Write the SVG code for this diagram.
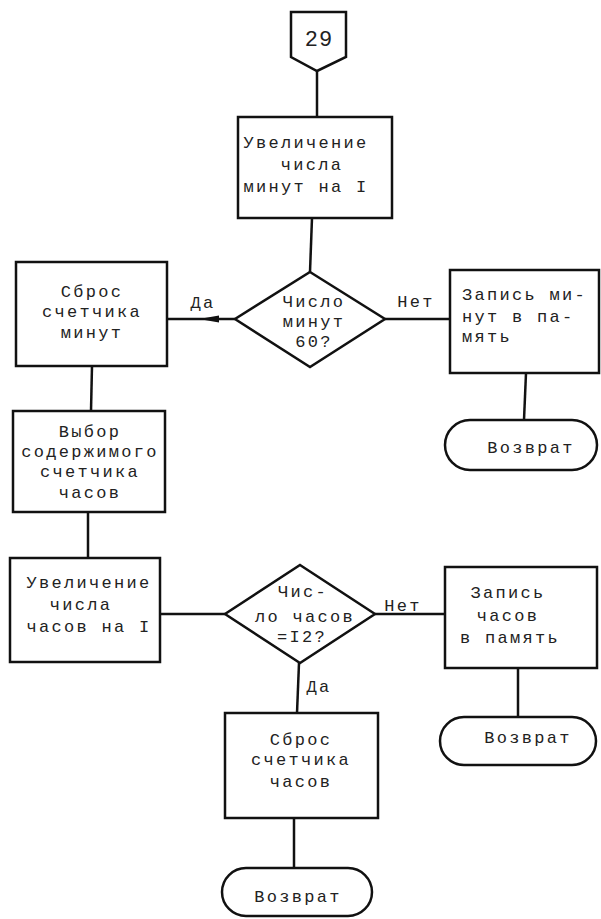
<svg xmlns="http://www.w3.org/2000/svg" width="601" height="919" viewBox="0 0 601 919">
<style>
.s{fill:#fff;stroke:#111;stroke-width:2.5}
.c{fill:none;stroke:#111;stroke-width:2.5}
text{font-family:"Liberation Mono","Courier New",monospace;font-size:17px;letter-spacing:2.3px;fill:#222}
.m{text-anchor:middle}
</style>
<rect width="601" height="919" fill="#fff"/>
<g id="connectors">
<line class="c" x1="317" y1="71" x2="317" y2="117"/>
<line class="c" x1="312" y1="218" x2="310" y2="272"/>
<line class="c" x1="235" y1="319" x2="167" y2="319"/>
<polygon points="199,319 219,315.5 219,322.5" fill="#111"/>
<line class="c" x1="385" y1="319" x2="450" y2="319"/>
<line class="c" x1="526" y1="373" x2="524" y2="420"/>
<line class="c" x1="92" y1="366" x2="91" y2="411"/>
<line class="c" x1="88" y1="512" x2="88" y2="558"/>
<line class="c" x1="160" y1="614" x2="225" y2="614"/>
<line class="c" x1="375" y1="614" x2="445" y2="614"/>
<line class="c" x1="518" y1="668" x2="518" y2="717"/>
<line class="c" x1="299" y1="663" x2="297" y2="713"/>
<line class="c" x1="294" y1="818" x2="294" y2="868"/>
<text x="203" y="308" class="m">Да</text>
<text x="416" y="307" class="m">Нет</text>
<text x="403" y="611" class="m">Нет</text>
<text x="319" y="692" class="m">Да</text>
</g>
<g id="n29">
<polygon class="s" points="291,12 346,12 346,57 317,71 291,57"/>
<text x="319" y="46" class="m" style="font-size:22px;letter-spacing:1px">29</text>
</g>
<g id="incMin">
<rect class="s" x="238" y="117" width="154" height="101"/>
<text x="306" y="148" class="m">Увеличение</text>
<text x="312" y="170" class="m">числа</text>
<text x="306" y="192" class="m">минут на I</text>
</g>
<g id="decMin">
<polygon class="s" points="310,272 385,319 310,367 235,319"/>
<text x="314" y="307" class="m">Число</text>
<text x="314" y="327" class="m">минут</text>
<text x="314" y="347" class="m">60?</text>
</g>
<g id="resetMin">
<rect class="s" x="16" y="262" width="151" height="104"/>
<text x="92" y="297" class="m">Сброс</text>
<text x="92" y="317" class="m">счетчика</text>
<text x="92" y="338" class="m">минут</text>
</g>
<g id="storeMin">
<rect class="s" x="450" y="270" width="149" height="103"/>
<text x="462" y="300">Запись ми-</text>
<text x="462" y="322">нут в па-</text>
<text x="462" y="342">мять</text>
</g>
<g id="ret1">
<rect class="s" x="445" y="420" width="152" height="50" rx="25"/>
<text x="531" y="453" class="m">Возврат</text>
</g>
<g id="selHours">
<rect class="s" x="13" y="411" width="152" height="101"/>
<text x="90" y="437" class="m">Выбор</text>
<text x="90" y="457" class="m">содержимого</text>
<text x="90" y="477" class="m">счетчика</text>
<text x="90" y="498" class="m">часов</text>
</g>
<g id="incHours">
<rect class="s" x="10" y="558" width="150" height="104"/>
<text x="89" y="588" class="m">Увеличение</text>
<text x="81" y="610" class="m">числа</text>
<text x="89" y="632" class="m">часов на I</text>
</g>
<g id="decHours">
<polygon class="s" points="300,565 375,614 300,663 225,614"/>
<text x="303" y="597" class="m">Чис-</text>
<text x="305" y="622" class="m">ло часов</text>
<text x="302" y="642" class="m">=I2?</text>
</g>
<g id="storeHours">
<rect class="s" x="445" y="567" width="152" height="101"/>
<text x="508" y="598" class="m">Запись</text>
<text x="508" y="621" class="m">часов</text>
<text x="510" y="643" class="m">в память</text>
</g>
<g id="ret2">
<rect class="s" x="440" y="717" width="156" height="48" rx="24"/>
<text x="528" y="743" class="m">Возврат</text>
</g>
<g id="resetHours">
<rect class="s" x="225" y="713" width="153" height="105"/>
<text x="301" y="745" class="m">Сброс</text>
<text x="301" y="765" class="m">счетчика</text>
<text x="301" y="787" class="m">часов</text>
</g>
<g id="ret3">
<rect class="s" x="222" y="868" width="150" height="48" rx="24"/>
<text x="298" y="902" class="m">Возврат</text>
</g>
</svg>
